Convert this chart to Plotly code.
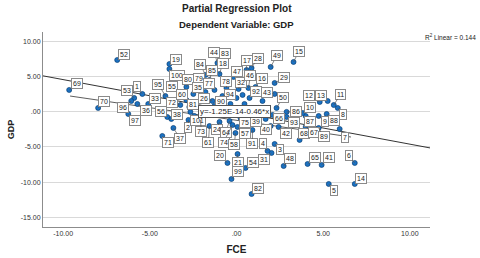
import plotly.graph_objects as go

# ---------------- data ----------------
case_labels = ["52","69","70","53","1","96","97","36","33","95","56","38","72","55","19","100",
               "71","37","2","101","73","61","24","64","74","58","57","20","21","99","54","82",
               "31","4","91","3","48","65","41","6","5","14","40","42","75","39","68","67","89",
               "7","93","87","9","88","8","86","10","12","13","11","66","50","43","29","16","92",
               "32","46","47","17","28","49","15","44","83","18","84","85","79","80","77","78",
               "35","60","26","94","90","81"]
fce_values = [-6.88,-9.65,-7.98,-5.90,-5.43,-6.07,-6.24,-5.72,-5.09,-4.10,-3.99,-3.76,-3.24,-3.24,-3.87,-3.87,
              -4.28,-3.64,-2.77,-2.43,-2.08,-1.56,-0.98,-0.40,-0.23,-0.06,0.06,-0.52,0.06,-0.29,0.52,0.87,
              2.02,1.79,0.92,2.20,2.72,4.10,4.91,6.82,5.32,6.82,1.97,2.43,0.23,1.10,3.64,3.99,4.74,
              5.95,2.89,3.99,4.74,5.20,5.84,2.89,3.82,4.80,5.26,5.61,2.08,2.31,2.20,2.20,1.10,0.75,
              0.12,0.69,-0.17,0.58,0.87,1.97,3.29,-1.10,-0.81,-0.98,-1.79,-1.56,-2.31,-2.89,-1.27,-0.58,
              -2.49,-2.89,-1.39,-0.81,-1.27,-2.72]
gdp_values = [7.39,3.12,0.56,1.98,2.55,1.55,-0.30,1.13,1.13,2.26,-0.73,-1.01,0.98,2.83,6.82,6.11,
              -3.43,-2.29,-1.15,-0.58,-1.15,-2.01,-1.44,-1.30,-1.87,-3.01,-2.15,-7.28,-6.00,-9.56,-7.99,-11.70,
              -5.85,-5.57,-2.58,-4.57,-7.71,-7.42,-7.56,-7.28,-10.27,-10.27,-2.01,-2.15,-0.87,-0.58,-4.00,-2.15,-2.29,
              -2.44,-0.73,-0.58,-0.58,-0.30,0.56,0.00,-0.16,1.41,1.55,0.98,-0.44,0.56,2.55,4.12,3.55,1.98,
              3.26,3.40,4.97,5.97,6.25,6.40,7.11,6.97,6.82,5.40,5.26,4.54,3.97,3.55,3.12,3.40,
              2.55,1.70,1.55,2.26,0.84,0.70]
# cases whose labels are hidden under other labels
hidden_fce = [-2.08,-0.58,0.46,0.00,1.50,1.27,-1.33,-0.35,0.81,1.68,-1.79,0.35,-2.66]
hidden_gdp = [0.56,-0.01,1.13,1.98,1.55,0.56,-0.16,1.13,-0.01,-1.01,2.83,2.41,-0.01]

fit_intercept = -1.25e-14
fit_slope = -0.46
r2_linear = 0.144
second_line_x = [-9.6, 6.6]
second_line_y = [2.26, -3.58]

x_tick_vals = [-10, -5, 0, 5, 10]
x_tick_text = ["-10.00", "-5.00", ".00", "5.00", "10.00"]
y_tick_vals = [10, 5, 0, -5, -10, -15]
y_tick_text = ["10.00", "5.00", ".00", "-5.00", "-10.00", "-15.00"]

# ---------------- layout / positions ----------------
x_range = [-11.16, 11.16]
y_range = [-16.4, 11.38]
# label box offsets in pixels (dx, dy) from each point
label_offsets = [(7,-6),(8,-6),(6,-6),(-7,-7),(-5,-7),(-8,6),(7,7),(9,7),(7,-5),(-7,-12),(-6,-6),(6,-4),(-8,-3),(-8,-6),(7,-5),(8,7),
                 (6,7),(7,11),(0,8),(4,5),(1,12),(-1,17),(-3,8),(-4,11),(-9,17),(-1,11),(7,7),(-7,-7),(0,8),(7,-7),(7,-5),(6,-6),
                 (-8,7),(-5,-7),(0,14),(5,6),(6,-8),(7,-6),(7,-7),(-6,-7),(5,7),(6,-5),(-5,4),(7,7),(5,5),(0,6),(4,-6),(8,6),(5,9),
                 (5,8),(7,5),(4,6),(6,6),(7,7),(5,7),(9,0),(7,-6),(-11,-6),(-7,-6),(7,-11),(6,4),(6,-10),(-8,-1),(9,-5),(6,-8),(6,-6),
                 (2,-7),(2,-13),(3,-5),(0,-9),(6,-10),(6,-11),(5,-10),(-3,-10),(3,-11),(3,-10),(-5,-10),(3,-10),(3,-6),(2,-7),(-5,-6),(0,-7),
                 (5,-6),(-4,-5),(-8,-3),(8,-2),(7,-4),(4,-2)]

FONT = "Liberation Sans, Arial, sans-serif"
marker_style = dict(size=5, color="#1a72c4", line=dict(color="#0c3f73", width=0.7))

fig = go.Figure()

fit_x = list(x_range)
fit_y = [fit_intercept + fit_slope * v for v in fit_x]
fig.add_trace(go.Scatter(x=fit_x, y=fit_y, mode="lines",
                         line=dict(color="#333333", width=1), hoverinfo="skip"))
fig.add_trace(go.Scatter(x=second_line_x, y=second_line_y, mode="lines",
                         line=dict(color="#333333", width=0.8), hoverinfo="skip"))
fig.add_trace(go.Scatter(x=hidden_fce, y=hidden_gdp, mode="markers", marker=marker_style))
fig.add_trace(go.Scatter(x=fce_values, y=gdp_values, mode="markers", marker=marker_style,
                         text=case_labels))

annotations = []
for lab, xv, yv, (dx, dy) in zip(case_labels, fce_values, gdp_values, label_offsets):
    annotations.append(dict(
        x=xv, y=yv, xref="x", yref="y", text=lab, showarrow=True,
        ax=dx, ay=dy, arrowhead=0, arrowwidth=0.7, arrowcolor="#555555", standoff=0,
        font=dict(family=FONT, size=7, color="#222222"),
        bgcolor="white", bordercolor="#8a8a8a", borderwidth=1, borderpad=1))

annotations.append(dict(x=-0.12, y=-0.01, xref="x", yref="y", showarrow=False,
                        text=f"y={fit_intercept:.2E}{fit_slope:+.2f}*x",
                        font=dict(family=FONT, size=8, color="#222222"),
                        bgcolor="white", bordercolor="#555555", borderwidth=1, borderpad=1))
annotations.append(dict(x=1.124, y=0.974, xref="paper", yref="paper", xanchor="right", yanchor="middle",
                        showarrow=False, text=f"R<sup>2</sup> Linear = {r2_linear}",
                        font=dict(family=FONT, size=6.5, color="#222222")))
annotations.append(dict(x=0.50, y=1.118, xref="paper", yref="paper", xanchor="center", yanchor="middle",
                        showarrow=False, text="<b>Partial Regression Plot</b>",
                        font=dict(family=FONT, size=10, color="#222222")))
annotations.append(dict(x=0.50, y=1.036, xref="paper", yref="paper", xanchor="center", yanchor="middle",
                        showarrow=False, text="<b>Dependent Variable: GDP</b>",
                        font=dict(family=FONT, size=9.5, color="#222222")))

fig.update_layout(
    width=480, height=258,
    margin=dict(l=43, r=50, t=32, b=31),
    paper_bgcolor="white", plot_bgcolor="white",
    showlegend=False,
    annotations=annotations,
    font=dict(family=FONT, size=7, color="#333333"),
    xaxis=dict(range=x_range, tickvals=x_tick_vals, ticktext=x_tick_text, showgrid=False,
               zeroline=False, showline=True, linecolor="#8c8c8c", linewidth=1, ticks="",
               automargin=False,
               tickfont=dict(family=FONT, size=7, color="#333333"),
               title=dict(text="<b>FCE</b>", font=dict(family=FONT, size=10, color="#222222"), standoff=9)),
    yaxis=dict(range=y_range, tickvals=y_tick_vals, ticktext=y_tick_text, showgrid=True,
               gridcolor="#d9d9d9", gridwidth=1, zeroline=False, showline=True,
               linecolor="#8c8c8c", linewidth=1, ticks="", automargin=False,
               tickfont=dict(family=FONT, size=7, color="#333333"),
               title=dict(text="<b>GDP</b>", font=dict(family=FONT, size=9, color="#222222"), standoff=4)),
)

fig.write_html("out.html", config={"displayModeBar": False},
               post_script="document.body.style.margin='0px';")
